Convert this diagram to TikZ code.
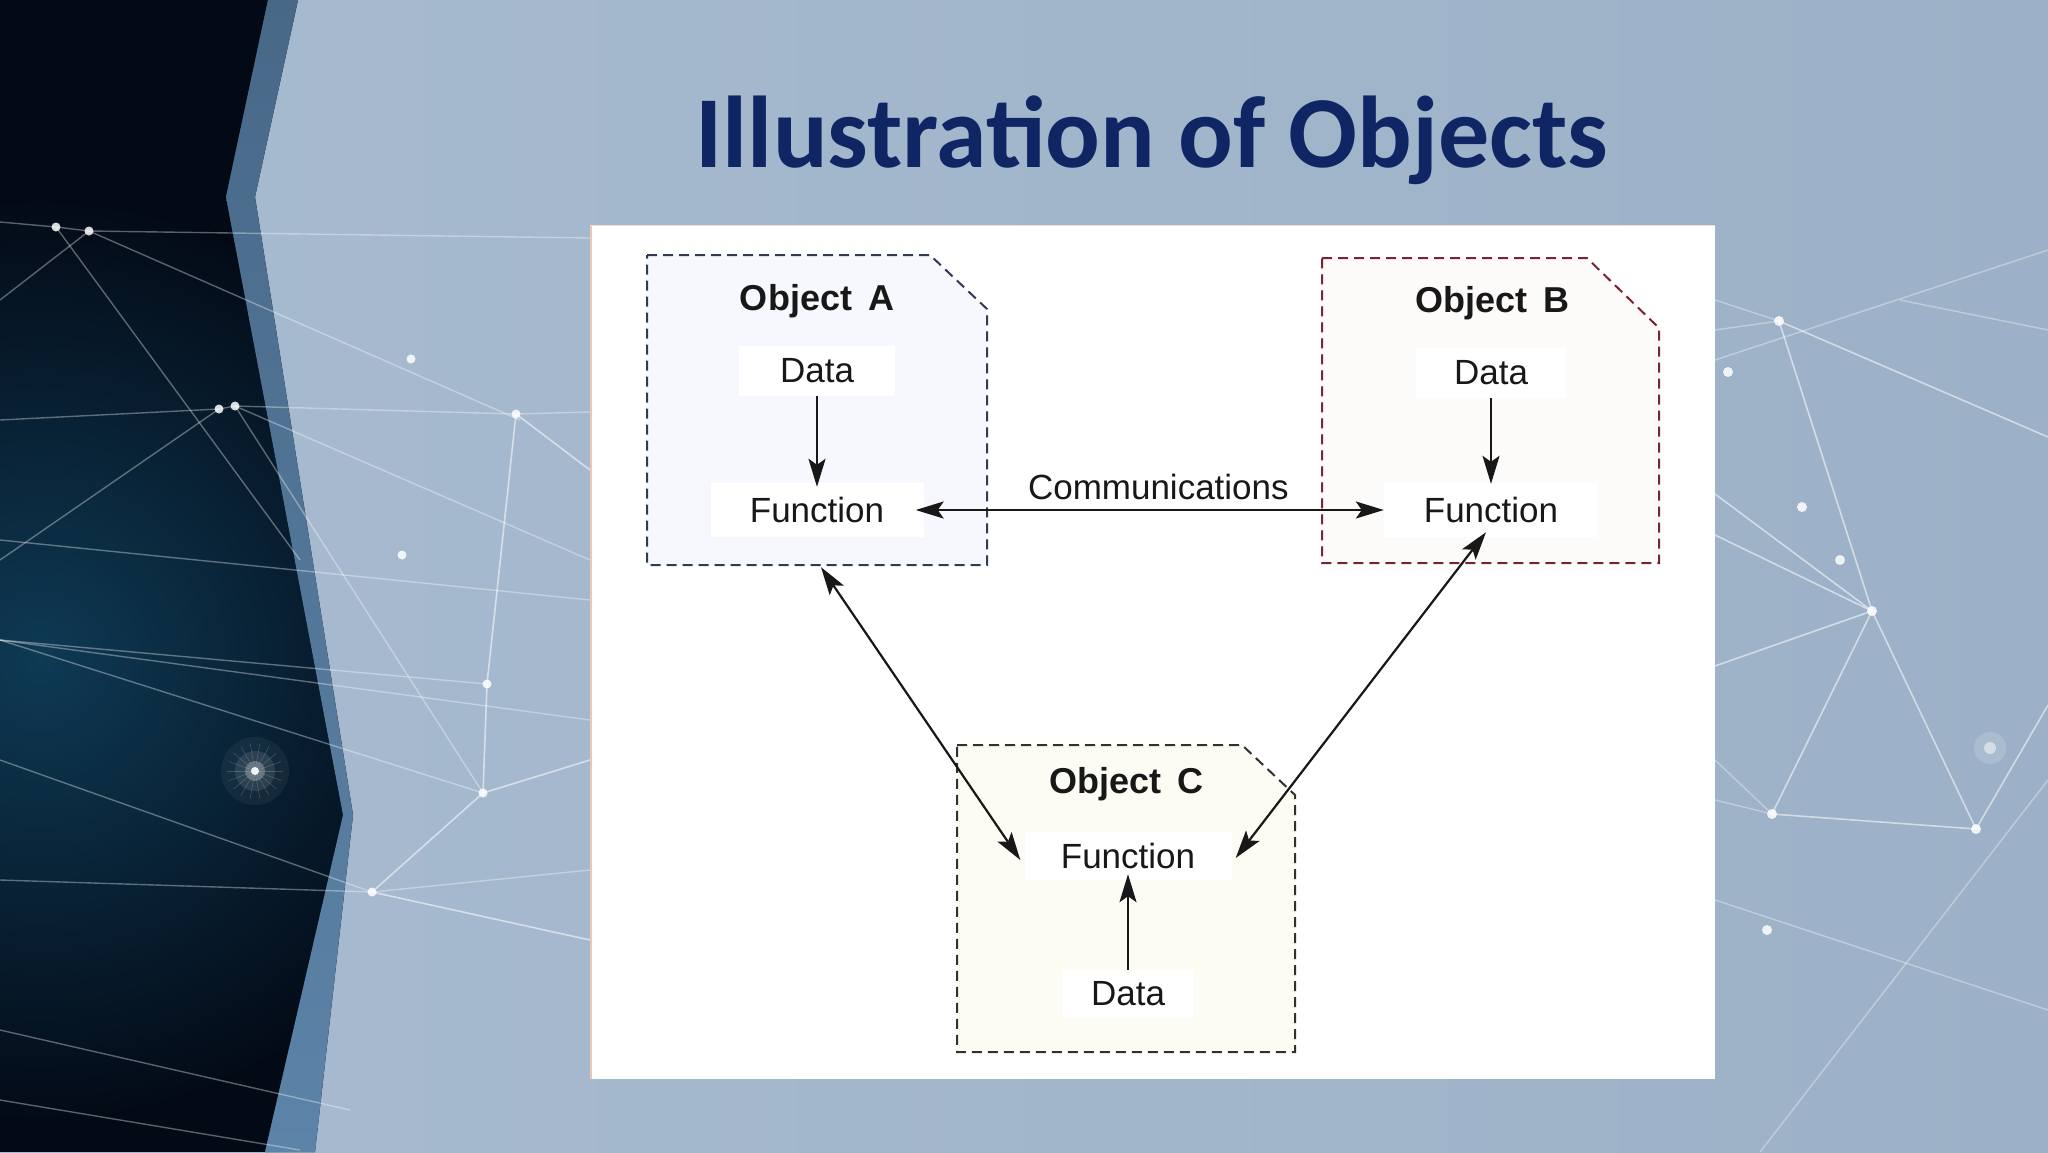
\documentclass[tikz,border=0pt]{standalone}
\usepackage{fontspec}
\setmainfont{Liberation Sans}
\newfontfamily\titlefont{Carlito}
\usetikzlibrary{arrows.meta,calc}
\definecolor{titleblue}{RGB}{16,38,100}
\definecolor{darkbg}{RGB}{3,10,22}
\definecolor{tealglow}{RGB}{14,58,84}
\definecolor{bandtop}{RGB}{72,104,136}
\definecolor{bandbot}{RGB}{92,132,168}
\definecolor{panelL}{RGB}{168,187,208}
\definecolor{panelM}{RGB}{184,201,218}
\definecolor{panelR}{RGB}{156,177,199}
\definecolor{boxA}{RGB}{47,58,85}
\definecolor{boxB}{RGB}{123,35,53}
\definecolor{boxC}{RGB}{50,50,42}
\definecolor{fillA}{RGB}{246,248,253}
\definecolor{fillB}{RGB}{253,250,250}
\definecolor{fillC}{RGB}{252,252,244}
\definecolor{ink}{RGB}{24,24,24}
\begin{document}
\begin{tikzpicture}[x=1pt,y=-1pt,
  lbl/.style={font=\fontsize{35}{40}\selectfont, text=ink, inner sep=0pt},
  objlbl/.style={font=\fontsize{36}{40}\selectfont\bfseries, text=ink, anchor=base, inner sep=0pt},
  bgbox/.style={lbl, fill=white, minimum height=50pt},
  objbox/.style={line width=2pt, dash pattern=on 10pt off 6pt},
  conn/.style={line width=2.2pt, draw=ink, -{Stealth[length=28pt,width=17pt,inset=6pt]}},
  bconn/.style={line width=2.2pt, draw=ink, {Stealth[length=28pt,width=17pt,inset=6pt]}-{Stealth[length=28pt,width=17pt,inset=6pt]}},
  netd/.style={line width=1.4pt, draw=white, opacity=0.35},
  netl/.style={line width=1.6pt, draw=white, opacity=0.55},
  dot/.style={fill=white, opacity=0.85}]
\useasboundingbox (0,0) rectangle (2048,1152);
% light panel
\fill[left color=panelL, middle color=panelM, right color=panelR] (0,0) rectangle (2048,1152);
% dark panel
\begin{scope}
  \clip (0,0) -- (268,0) -- (226,197) -- (343,815) -- (265,1152) -- (0,1152) -- cycle;
  \fill[darkbg] (0,0) rectangle (400,1152);
  \fill[inner color=tealglow, outer color=darkbg] (40,660) circle (460);
\end{scope}
% band
\fill[top color=bandtop, bottom color=bandbot] (268,0) -- (298,0) -- (255,197) -- (353,815) -- (315,1152) -- (265,1152) -- (343,815) -- (226,197) -- cycle;
% left network
\draw[netd] (0,222) -- (56,227) -- (89,231) -- (590,238);
\draw[netd] (89,231) -- (520,420);
\draw[netd] (0,300) -- (89,231);
\draw[netd] (56,227) -- (300,560);
\draw[netd] (0,420) -- (219,409) -- (235,406) -- (516,414) -- (590,412);
\draw[netd] (219,409) -- (0,560);
\draw[netd] (235,406) -- (483,793);
\draw[netd] (235,406) -- (590,560);
\draw[netd] (0,640) -- (487,684);
\draw[netd] (0,640) -- (483,793);
\draw[netd] (0,640) -- (590,720);
\draw[netd] (0,540) -- (590,600);
\draw[netd] (0,760) -- (372,892);
\draw[netd] (0,880) -- (372,892) -- (590,870);
\draw[netd] (0,1030) -- (350,1110);
\draw[netd] (0,1100) -- (300,1150);
\draw[netl] (487,684) -- (516,414);
\draw[netl] (487,684) -- (483,793);
\draw[netl] (483,793) -- (372,892);
\draw[netl] (483,793) -- (590,760);
\draw[netl] (372,892) -- (590,940);
\draw[netl] (516,414) -- (590,470);
\foreach \p in {(56,227),(89,231),(219,409),(235,406),(411,359),(372,892),(483,793),(487,684),(516,414),(402,555)}
  \fill[dot] \p circle (4.5);
% star
\fill[white, opacity=0.05] (255,771) circle (34);
\fill[white, opacity=0.10] (255,771) circle (20);
\fill[white, opacity=0.25] (255,771) circle (10);
\fill[white, opacity=0.9] (255,771) circle (4);
\foreach \a in {0,20,...,340} \draw[white, opacity=0.18, line width=0.6pt] (255,771) -- ++(\a:28);
% right network
\draw[netd] (1715,300) -- (1779,321);
\draw[netd] (1715,330) -- (1779,321);
\draw[netl] (1779,321) -- (2048,437);
\draw[netl] (1779,321) -- (1872,611);
\draw[netl] (1715,494) -- (1872,611);
\draw[netl] (1715,535) -- (1872,611);
\draw[netl] (1715,666) -- (1872,611);
\draw[netl] (1872,611) -- (1772,814);
\draw[netl] (1872,611) -- (1976,829);
\draw[netd] (1715,760) -- (1772,814);
\draw[netd] (1715,800) -- (1772,814);
\draw[netl] (1772,814) -- (1976,829);
\draw[netl] (1976,829) -- (2048,705);
\draw[netd] (1715,360) -- (2048,250);
\draw[netd] (1760,1152) -- (2048,780);
\draw[netd] (1715,900) -- (2048,1010);
\draw[netd] (1900,300) -- (2048,330);
\foreach \p in {(1779,321),(1872,611),(1772,814),(1976,829),(1802,507),(1728,372),(1767,930),(1840,560)}
  \fill[dot] \p circle (5);
\fill[white, opacity=0.15] (1990,748) circle (16);
\fill[white, opacity=0.5] (1990,748) circle (6);
% title
\node[font=\titlefont\bfseries\fontsize{102}{114}\selectfont, text=titleblue, anchor=base, inner sep=0pt] (title) at (1152,167) {Illustration of Objects};
% card
\fill[white] (590,225) rectangle (1715,1079);
\draw[line width=1.5pt, draw={rgb,255:red,225;green,160;blue,130}, opacity=0.6] (590.75,226) -- (590.75,1079);
\draw[line width=1pt, draw={rgb,255:red,225;green,160;blue,130}, opacity=0.35] (590,225.5) -- (1715,225.5);
% object boxes
\draw[objbox, draw=boxA, fill=fillA] (647,255) -- (930,255) -- (987,309) -- (987,565) -- (647,565) -- cycle;
\draw[objbox, draw=boxB, fill=fillB] (1322,258) -- (1587,258) -- (1659,328) -- (1659,563) -- (1322,563) -- cycle;
\draw[objbox, draw=boxC, fill=fillC] (957,745) -- (1242,745) -- (1295,795) -- (1295,1052) -- (957,1052) -- cycle;
% labels
\node[objlbl] (oA) at (817,310) {Object\, A};
\node[objlbl] (oB) at (1492,312) {Object\, B};
\node[objlbl] (oC) at (1126,793) {Object\, C};
\node[bgbox, minimum width=156pt] (dA) at (817,371) {Data};
\node[bgbox, minimum width=213pt, minimum height=54pt] (fA) at (817,510) {Function};
\node[bgbox, minimum width=150pt] (dB) at (1491,373) {Data};
\node[bgbox, minimum width=214pt, minimum height=54pt] (fB) at (1491,510) {Function};
\node[bgbox, minimum width=207pt, minimum height=48pt] (fC) at (1128,856) {Function};
\node[bgbox, minimum width=130pt, minimum height=48pt] (dC) at (1128,994) {Data};
% connectors
\draw[conn, shorten >=-4pt] (dA) -- (fA);
\draw[conn, shorten >=-1pt] (dB) -- (fB);
\draw[conn, shorten >=-6pt] (dC) -- (fC);
\draw[bconn, shorten <=-8pt] (fA.east) -- (fB.west)
  node[pos=0.51, anchor=base, yshift=11pt, lbl] (comm) {Communications};
\draw[bconn] ($(fA.south)+(4,30)$) -- ($(fC.west)+(-4,4)$);
\draw[bconn] ($(fB.south)+(-5,-5)$) -- ($(fC.east)+(4,2)$);
\end{tikzpicture}
\end{document}
